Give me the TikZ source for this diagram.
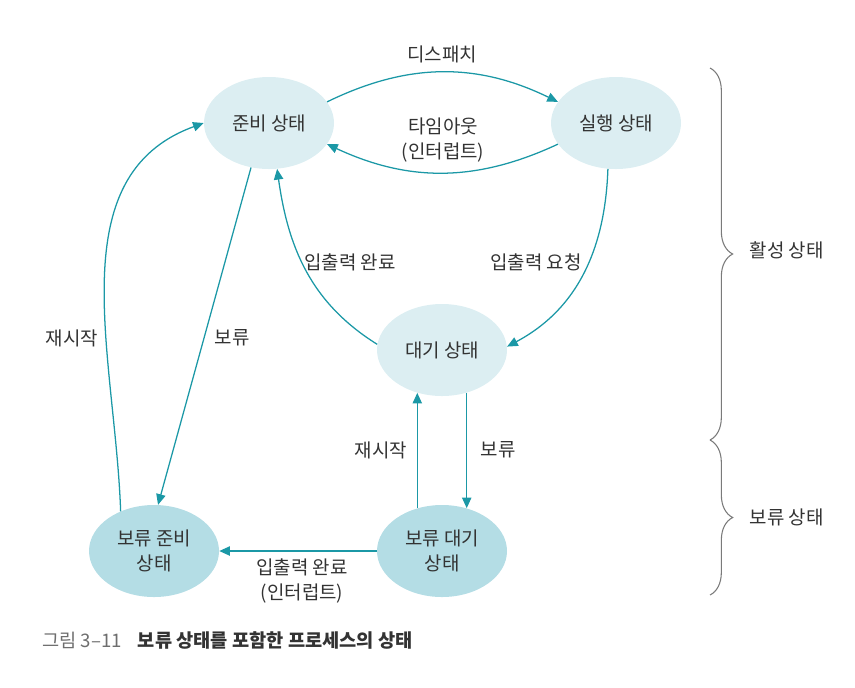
\documentclass[tikz,border=0pt]{standalone}
\usepackage{fontspec}
\setmainfont{Noto Sans CJK KR}
\usepackage{tikz}
\usetikzlibrary{shapes.geometric, arrows.meta, positioning, decorations.pathreplacing}
\definecolor{edgeteal}{HTML}{1B98A6}
\definecolor{paleblue}{HTML}{DCEEF2}
\definecolor{holdblue}{HTML}{B4DDE5}
\definecolor{bracegray}{HTML}{7A7A7A}
\definecolor{textgray}{HTML}{333333}
\definecolor{capgray}{HTML}{6E6E6E}

\begin{document}
\begin{tikzpicture}[x=0.75pt, y=-0.75pt,
  state/.style={ellipse, fill=paleblue, minimum width=97.5pt, minimum height=69pt,
                inner sep=0pt, align=center, text=textgray},
  held/.style={state, fill=holdblue},
  arr/.style={-{Triangle[length=8pt, width=7pt]}, draw=edgeteal, line width=0.95pt},
  lbl/.style={text=textgray, align=center},
  brc/.style={decorate, decoration={brace, amplitude=17pt}, draw=bracegray, line width=0.8pt},
  every node/.style={font=\fontsize{14.2}{18.7}\selectfont}
]
\useasboundingbox (0,0) rectangle (855,687);

% States
\node[state] (ready) at (269,123) {준비 상태};
\node[state] (run) at (616,123) {실행 상태};
\node[state] (wait) at (442,350) {대기 상태};
\node[held] (sready) at (154,551) {보류 준비\\상태};
\node[held] (swait) at (442,551) {보류 대기\\상태};

% Transitions
\draw[arr] (ready.20) to[bend left=26] (run.160);
\draw[arr] (run.200) to[bend left=25] (ready.340);
\draw[arr] (run.-100) to[out=-92, in=28] (wait.3);
\draw[arr] (wait.175) to[out=148, in=-82] (ready.-80);
\draw[arr] (ready.-112) -- (sready.85);
\draw[arr] (sready.130) to[out=92, in=200] (ready.180);
\draw[arr] (swait.120) -- (wait.240);
\draw[arr] (wait.300) -- (swait.60);
\draw[arr] (swait.west) -- (sready.east);

% Transition labels
\node[lbl] (dispatchlbl) at (442,54) {디스패치};
\node[lbl] (timeoutlbl) at (443,140) {타임아웃\\(인터럽트)};
\node[lbl] (ioreqlbl) at (536,262) {입출력 요청};
\node[lbl] (iodonelbl) at (350,262) {입출력 완료};
\node[lbl] (restartlbl) at (72,338) {재시작};
\node[lbl] (holdlbl) at (232,338) {보류};
\node[lbl] (restartlbl2) at (381,450) {재시작};
\node[lbl] (holdlbl2) at (498,450) {보류};
\node[lbl] (intrlbl) at (302,581) {입출력 완료\\(인터럽트)};

% Braces
\coordinate (acttop) at (710,68);
\coordinate (actbot) at (710,440);
\coordinate (holdbot) at (710,595);
\draw[brc] (acttop) -- (actbot);
\draw[brc] (actbot) -- (holdbot);
\node[lbl, anchor=west] (activelbl) at (745,250) {활성 상태};
\node[lbl, anchor=west] (holdstatelbl) at (745,517) {보류 상태};

% Caption
\node[anchor=west, inner sep=0pt, font=\fontsize{14}{16}\selectfont] (caption) at (42,640)
  {\textcolor{capgray}{그림 3–11}\hspace{12pt}\textbf{\textcolor{textgray}{보류 상태를 포함한 프로세스의 상태}}};
\end{tikzpicture}
\end{document}
